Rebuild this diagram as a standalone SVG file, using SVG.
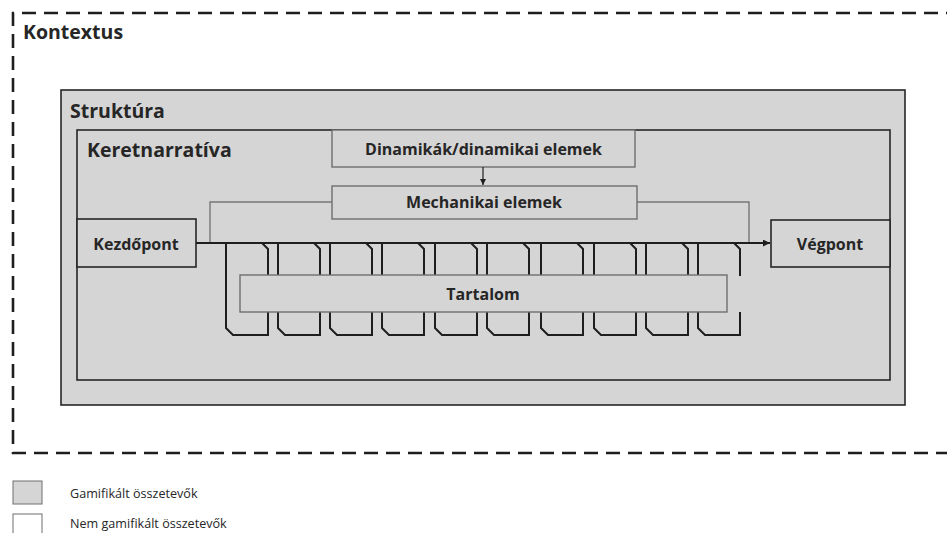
<svg xmlns="http://www.w3.org/2000/svg" width="947" height="533" viewBox="0 0 947 533">
  <style>
    .box { fill: #d5d5d5; stroke: #262626; stroke-width: 1.6; }
    .sub { fill: #d5d5d5; stroke: #6e6e6e; stroke-width: 1.4; }
    .title { font-family: "Open Sans", "DejaVu Sans", sans-serif; font-weight: 700; fill: #262626; font-size: 19.5px; }
    .lbl { font-family: "Open Sans", "DejaVu Sans", sans-serif; font-weight: 700; font-size: 16px; fill: #262626; text-anchor: middle; }
    .legend { font-family: "Open Sans", "DejaVu Sans", sans-serif; font-size: 12.6px; fill: #262626; }
    .loop { fill: none; stroke: #1e1e1e; stroke-width: 2; stroke-linejoin: miter; }
    .wire { fill: none; stroke: #1e1e1e; stroke-width: 1.8; }
    .thin { fill: none; stroke: #777; stroke-width: 1.4; }
  </style>
  <defs>
    <marker id="arr" viewBox="0 0 10 10" refX="10" refY="5" markerWidth="6" markerHeight="6" orient="auto" markerUnits="userSpaceOnUse">
      <path d="M0,0 L10,5 L0,10 z" fill="#1e1e1e"/>
    </marker>
    <marker id="arrBig" viewBox="0 0 10 10" refX="10" refY="5" markerWidth="8" markerHeight="7" orient="auto" markerUnits="userSpaceOnUse">
      <path d="M0,0 L10,5 L0,10 z" fill="#1e1e1e"/>
    </marker>
    <!-- one content loop: top rides the main line, chamfered corners top-right and bottom-left -->
    <path id="loopTop" d="M0,0 L36,0 L42,6 L42,33"/>
    <path id="loopBot" d="M42,69 L42,92 L7,92 L0,85 L0,0"/>
  </defs>

  <rect width="947" height="533" fill="#ffffff"/>

  <!-- Kontextus: dashed outer frame open to the right -->
  <g id="kontextus">
    <path d="M960,13 L13,13 L13,453 L960,453" fill="none" stroke="#1e1e1e" stroke-width="2.6" stroke-dasharray="14 8"/>
    <text class="title" x="23" y="39">Kontextus</text>
  </g>

  <!-- Struktúra -->
  <g id="struktura">
    <rect class="box" x="61" y="90" width="844" height="315"/>
    <text class="title" x="70" y="118">Struktúra</text>
  </g>

  <!-- Keretnarratíva -->
  <g id="keretnarrativa">
    <rect class="box" x="77" y="130" width="813" height="250"/>
    <text class="title" x="87" y="157">Keretnarratíva</text>
  </g>

  <g id="dinamikak">
    <rect class="sub" x="332" y="130" width="303" height="37"/>
    <text class="lbl" x="483.5" y="155">Dinamikák/dinamikai elemek</text>
  </g>

  <g id="connectors">
    <!-- Dinamikák -> Mechanikai -->
    <line x1="483" y1="167" x2="483" y2="185" stroke="#1e1e1e" stroke-width="1.2" marker-end="url(#arr)"/>
    <!-- Mechanikai hooks down to the main line -->
    <path class="thin" d="M332,202 L210,202 L210,243"/>
    <path class="thin" d="M637,202 L749,202 L749,243"/>
    <!-- main line Kezdőpont -> Végpont -->
    <line class="wire" x1="196" y1="243" x2="770" y2="243" marker-end="url(#arrBig)"/>
    <!-- content loops, upper halves -->
    <g class="loop">
      <use href="#loopTop" x="226" y="243"/>
      <use href="#loopTop" x="278" y="243"/>
      <use href="#loopTop" x="330" y="243"/>
      <use href="#loopTop" x="382" y="243"/>
      <use href="#loopTop" x="435" y="243"/>
      <use href="#loopTop" x="487" y="243"/>
      <use href="#loopTop" x="541" y="243"/>
      <use href="#loopTop" x="594" y="243"/>
      <use href="#loopTop" x="646" y="243"/>
      <use href="#loopTop" x="698" y="243"/>
    </g>
    <!-- content loops, lower halves -->
    <g class="loop">
      <use href="#loopBot" x="226" y="243"/>
      <use href="#loopBot" x="278" y="243"/>
      <use href="#loopBot" x="330" y="243"/>
      <use href="#loopBot" x="382" y="243"/>
      <use href="#loopBot" x="435" y="243"/>
      <use href="#loopBot" x="487" y="243"/>
      <use href="#loopBot" x="541" y="243"/>
      <use href="#loopBot" x="594" y="243"/>
      <use href="#loopBot" x="646" y="243"/>
      <use href="#loopBot" x="698" y="243"/>
    </g>
  </g>

  <g id="mechanikai">
    <rect class="sub" x="332" y="186" width="305" height="33"/>
    <text class="lbl" x="484" y="208">Mechanikai elemek</text>
  </g>

  <g id="kezdopont">
    <rect class="box" x="77" y="219" width="119" height="48"/>
    <text class="lbl" x="136" y="250">Kezdőpont</text>
  </g>

  <g id="vegpont">
    <rect class="box" x="771" y="220" width="119" height="47"/>
    <text class="lbl" x="830" y="250">Végpont</text>
  </g>

  <g id="tartalom">
    <rect class="sub" x="240" y="275" width="487" height="37"/>
    <text class="lbl" x="483" y="300">Tartalom</text>
  </g>

  <!-- legend -->
  <g id="legend">
    <rect x="13" y="481" width="29" height="23" fill="#d5d5d5" stroke="#6e6e6e" stroke-width="1"/>
    <text class="legend" x="70" y="498">Gamifikált összetevők</text>
    <rect x="13" y="514" width="29" height="23" fill="#ffffff" stroke="#6e6e6e" stroke-width="1"/>
    <text class="legend" x="70" y="528">Nem gamifikált összetevők</text>
  </g>
</svg>
